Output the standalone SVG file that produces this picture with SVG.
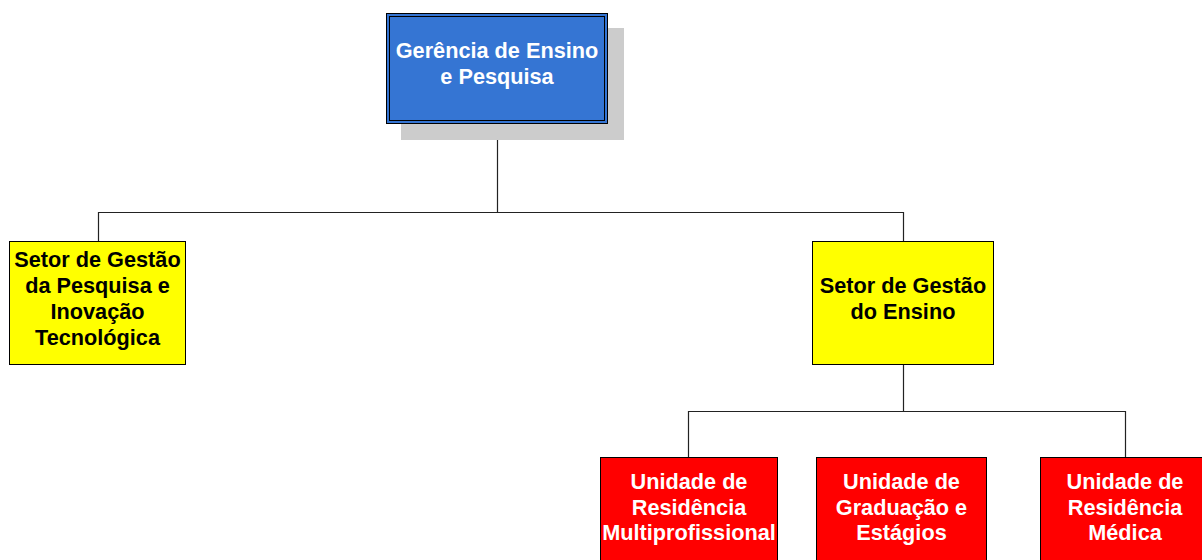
<svg xmlns="http://www.w3.org/2000/svg" width="1202" height="560" viewBox="0 0 1202 560">
<style>
.t{font-family:"Liberation Sans",Arial,sans-serif;font-weight:bold;font-size:21.7px;text-anchor:middle}
.w{fill:#ffffff}
.k{fill:#000000}
.box{stroke:#000;stroke-width:1}
.conn{fill:none;stroke:#222;stroke-width:1.2}
</style>
<rect width="1202" height="560" fill="#ffffff"/>
<g id="connectors">
<path class="conn" d="M497.5 124 V212.5 M98.5 241 V212.5 H903.5 V241"/>
<path class="conn" d="M903.5 365 V411.5 M688.5 457 V411.5 H1125.5 V457"/>
</g>
<g id="gerencia">
<rect x="401" y="28" width="223" height="112" fill="#cccccc"/>
<rect class="box" x="386.5" y="13.5" width="221" height="110" fill="#3575d3"/>
<rect x="389.5" y="16.5" width="215" height="104" fill="none" stroke="#000" stroke-width="1"/>
<text class="t w" x="497" y="58">Gerência de Ensino</text>
<text class="t w" x="497" y="84">e Pesquisa</text>
</g>
<g id="setor-pesquisa">
<rect class="box" x="9.5" y="241.5" width="176" height="123" fill="#ffff00"/>
<text class="t k" x="97.5" y="266.5">Setor de Gestão</text>
<text class="t k" x="97.5" y="292.5">da Pesquisa e</text>
<text class="t k" x="97.5" y="318.5">Inovação</text>
<text class="t k" x="97.5" y="344.5">Tecnológica</text>
</g>
<g id="setor-ensino">
<rect class="box" x="812.5" y="241.5" width="181" height="123" fill="#ffff00"/>
<text class="t k" x="903" y="293">Setor de Gestão</text>
<text class="t k" x="903" y="319">do Ensino</text>
</g>
<g id="unidade-multi">
<rect class="box" x="600.5" y="457.5" width="177" height="110" fill="#ff0000"/>
<text class="t w" x="689" y="488.5">Unidade de</text>
<text class="t w" x="689" y="514.5">Residência</text>
<text class="t w" x="689" y="540">Multiprofissional</text>
</g>
<g id="unidade-grad">
<rect class="box" x="816.5" y="457.5" width="170" height="110" fill="#ff0000"/>
<text class="t w" x="901.5" y="488.5">Unidade de</text>
<text class="t w" x="901.5" y="514.5">Graduação e</text>
<text class="t w" x="901.5" y="540">Estágios</text>
</g>
<g id="unidade-medica">
<rect class="box" x="1040.5" y="457.5" width="170" height="110" fill="#ff0000"/>
<text class="t w" x="1125" y="488.5">Unidade de</text>
<text class="t w" x="1125" y="514.5">Residência</text>
<text class="t w" x="1125" y="540">Médica</text>
</g>
</svg>
